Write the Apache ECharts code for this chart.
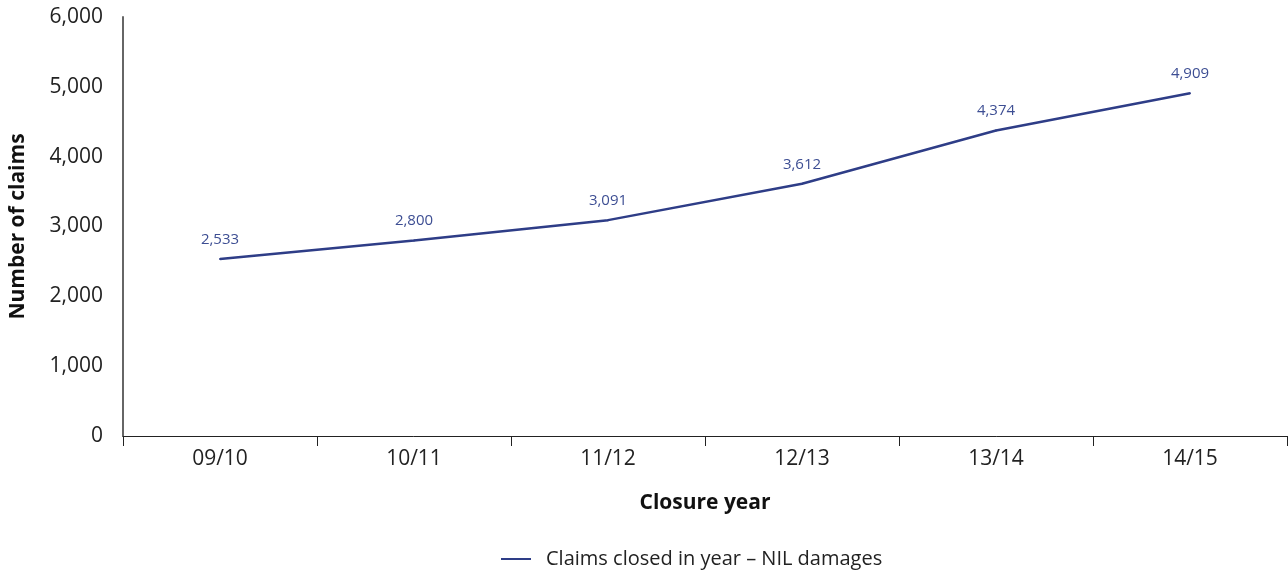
<!DOCTYPE html>
<html>
<head>
<meta charset="utf-8">
<script src="https://cdn.jsdelivr.net/npm/echarts@6/dist/echarts.min.js"></script>
<style>
  html, body { margin: 0; padding: 0; background: #fff; }
  #chart { width: 1288px; height: 572px; }
</style>
</head>
<body>
<div id="chart"></div>
<script>
// Closure years and number of claims closed with nil damages
const closureYears = ['09/10', '10/11', '11/12', '12/13', '13/14', '14/15'];
const nilDamageClaims = [2533, 2800, 3091, 3612, 4374, 4909];
const seriesName = 'Claims closed in year \u2013 NIL damages';

const FONT = '"Open Sans", "Noto Sans", sans-serif';
const LINE_COLOR = '#2e3d87';

const chart = echarts.init(document.getElementById('chart'));
chart.setOption({
  animation: false,
  textStyle: { fontFamily: FONT },
  grid: { left: 121, right: 1, top: 17, bottom: 136 },
  legend: {
    top: 544,
    left: 496,
    itemWidth: 30,
    itemHeight: 2,
    icon: 'rect',
    itemStyle: { color: LINE_COLOR, opacity: 1 },
    textStyle: { fontFamily: FONT, fontSize: 20, color: '#222', padding: [0, 0, 0, 10] },
    data: [seriesName]
  },
  xAxis: {
    type: 'category',
    data: closureYears,
    boundaryGap: true,
    name: 'Closure year',
    nameLocation: 'middle',
    nameGap: 57,
    nameTextStyle: { fontFamily: FONT, fontSize: 21, fontWeight: 'bold', color: '#111' },
    axisLine: { lineStyle: { color: '#222', width: 1 } },
    axisTick: { show: true, length: 10, lineStyle: { color: '#222' } },
    axisLabel: { fontFamily: FONT, fontSize: 21, color: '#222', margin: 13 }
  },
  yAxis: {
    type: 'value',
    min: 0,
    max: 6000,
    interval: 1000,
    name: 'Number of claims',
    nameLocation: 'middle',
    nameGap: 94,
    nameTextStyle: { fontFamily: FONT, fontSize: 21, fontWeight: 'bold', color: '#111' },
    axisLine: { show: true, lineStyle: { color: '#666', width: 2 } },
    axisTick: { show: false },
    splitLine: { show: false },
    axisLabel: {
      fontFamily: FONT, fontSize: 21, color: '#222', margin: 20,
      formatter: v => v.toLocaleString('en-US')
    }
  },
  series: [{
    name: seriesName,
    type: 'line',
    data: nilDamageClaims,
    symbol: 'circle',
    symbolSize: 2,
    showSymbol: true,
    itemStyle: { color: LINE_COLOR },
    lineStyle: { color: LINE_COLOR, width: 2.5 },
    label: {
      show: true,
      position: 'top',
      distance: 11,
      fontFamily: FONT,
      fontSize: 15,
      color: '#3d4e93',
      formatter: p => p.value.toLocaleString('en-US')
    }
  }]
});
</script>
</body>
</html>
